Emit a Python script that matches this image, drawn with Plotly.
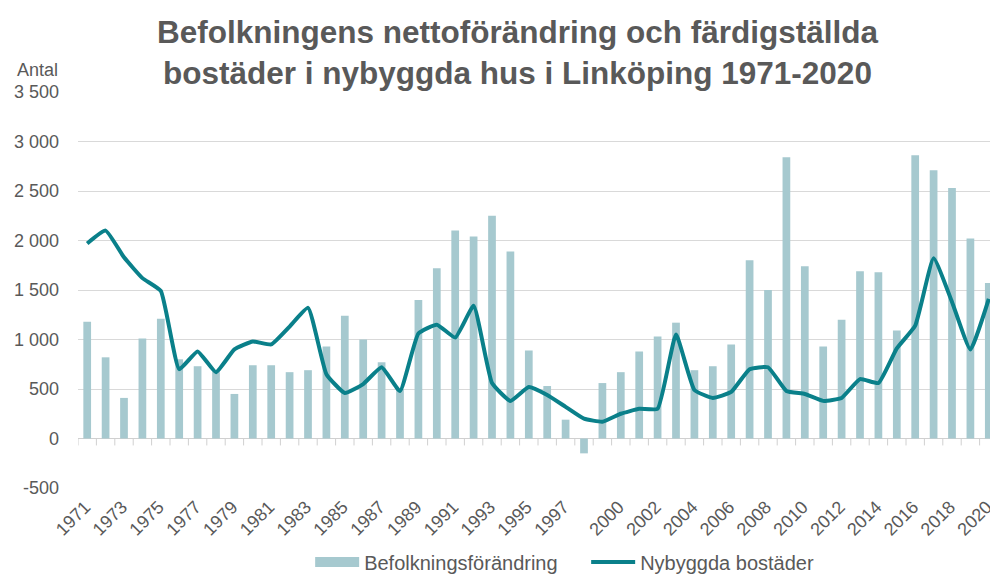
import plotly.graph_objects as go

years = [str(y) for y in range(1971, 2021)]

befolkning = [1180, 820, 410, 1010, 1210, 800, 730, 680, 450, 740,
              740, 670, 690, 930, 1240, 1000, 770, 500, 1400, 1720,
              2100, 2040, 2250, 1890, 890, 530, 190, -150, 560, 670,
              880, 1030, 1170, 690, 730, 950, 1800, 1500, 2840, 1740,
              930, 1200, 1690, 1680, 1090, 2860, 2710, 2530, 2020, 1570]

nybyggda = [1970, 2100, 1830, 1620, 1490, 700, 880, 670, 900, 980,
            950, 1130, 1320, 650, 460, 550, 720, 480, 1060, 1150,
            1020, 1340, 560, 380, 520, 440, 320, 200, 170, 250,
            300, 300, 1050, 490, 410, 470, 700, 720, 480, 450,
            380, 410, 600, 560, 910, 1140, 1820, 1380, 900, 1410]

x_ticklabels = [str(y) for y in range(1971, 1998, 2)] + [str(y) for y in range(2000, 2021, 2)]
y_tickvals = [-500, 0, 500, 1000, 1500, 2000, 2500, 3000, 3500]
y_ticktext = ["-500", "0", "500", "1 000", "1 500", "2 000", "2 500", "3 000", "3 500"]

GREY = "#595959"
BAR_COLOR = "#A6C9CF"
LINE_COLOR = "#0A808A"
FONT = "Liberation Sans, Arial, sans-serif"

fig = go.Figure()
fig.add_trace(go.Bar(
    x=years, y=befolkning, name="Befolkningsförändring",
    marker=dict(color=BAR_COLOR, line=dict(width=0)),
    showlegend=False, legendgroup="bef",
))
# legend entry for the bars (wide rectangular swatch, as in the original)
fig.add_trace(go.Scatter(
    x=[None], y=[None], name="Befolkningsförändring", mode="lines",
    line=dict(color=BAR_COLOR, width=10), legendgroup="bef",
))
fig.add_trace(go.Scatter(
    x=years, y=nybyggda, name="Nybyggda bostäder", mode="lines",
    line=dict(color=LINE_COLOR, width=4, shape="spline", smoothing=0.4),
))

shapes = []
for k in range(len(years) + 1):
    shapes.append(dict(type="line", xref="x", yref="y", x0=k - 0.5, x1=k - 0.5,
                       y0=0, y1=-70, line=dict(color="#D0D0D0", width=1)))

# page body has an 8px margin -> figure is 990x568 drawn at (8, 8)
fig.update_layout(
    width=990, height=568,
    margin=dict(l=70, r=0, t=84, b=88),
    plot_bgcolor="white", paper_bgcolor="white",
    font=dict(family=FONT, color=GREY, size=18),
    title=dict(
        text="Befolkningens nettoförändring och färdigställda<br>bostäder i nybyggda hus i Linköping 1971-2020",
        x=0.5146, xanchor="center", xref="container",
        y=0.938, yanchor="top", yref="container",
        font=dict(family=FONT, size=31.5, color=GREY, weight="bold"),
    ),
    bargap=0.58,
    showlegend=True,
    legend=dict(orientation="h", x=0.584, xanchor="center", xref="container",
                y=0.059, yanchor="top", yref="container",
                font=dict(size=20, color=GREY), traceorder="normal",
                itemwidth=44, entrywidth=217),
    xaxis=dict(type="category", range=[-0.5, len(years) - 0.5], automargin=False,
               tickmode="array", tickvals=x_ticklabels, ticktext=x_ticklabels,
               tickangle=-45, showgrid=False, showline=False, ticks="",
               ticklabelshift=-2, ticklabelstandoff=4,
               tickfont=dict(size=18, color=GREY)),
    yaxis=dict(range=[-500, 3500], tickmode="array", tickvals=y_tickvals, automargin=False,
               ticktext=y_ticktext, showgrid=True, gridcolor="#D9D9D9", gridwidth=1,
               zeroline=True, zerolinecolor="#D0D0D0", zerolinewidth=1,
               showline=False, ticks="", ticklabelstandoff=18,
               tickfont=dict(size=18, color=GREY)),
    shapes=shapes,
    annotations=[dict(text="Antal", xref="paper", yref="paper", x=0, y=1.0,
                      xshift=-18, yshift=22, xanchor="right", yanchor="middle",
                      showarrow=False, font=dict(size=18, color=GREY))],
)

fig.write_html("out.html")
